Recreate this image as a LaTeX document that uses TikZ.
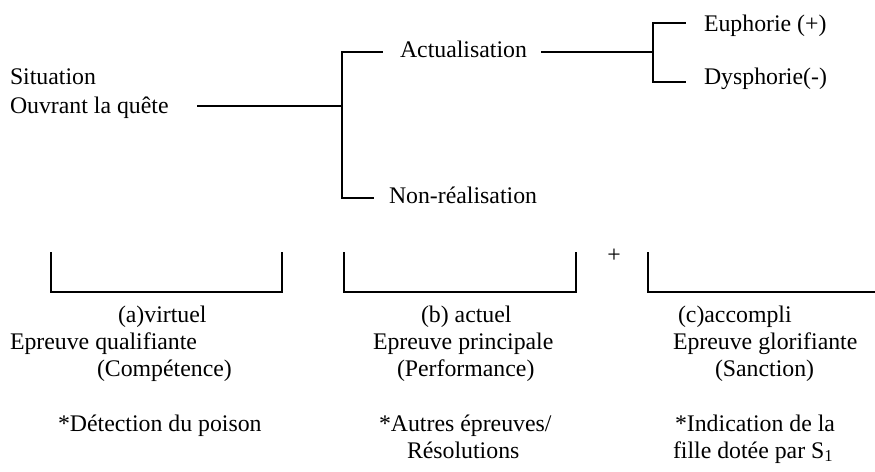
\documentclass[tikz,border=0pt]{standalone}
\usepackage{fontspec}
\setmainfont{Liberation Serif}
\begin{document}
\begin{tikzpicture}[x=1pt,y=-1pt,
  txt/.style={anchor=base west,inner sep=0pt,outer sep=0pt,font=\fontsize{23.8}{27}\selectfont},
  ln/.style={line width=2.2pt,line cap=rect}]
\useasboundingbox (0,0) rectangle (875,471);
% top texts
\node[txt] (sit1) at (10,84) {Situation};
\node[txt] (sit2) at (10,113) {Ouvrant la quête};
\node[txt] (act) at (400,57) {Actualisation};
\node[txt] (non) at (389,203) {Non-réalisation};
\node[txt] (eup) at (704,31) {Euphorie (+)};
\node[txt] (dys) at (704,84) {Dysphorie(-)};
% top tree coordinates
\coordinate (s0) at (198,106);
\coordinate (j1) at (342,106);
\coordinate (j1t) at (342,52);
\coordinate (j1b) at (342,198);
\coordinate (actin) at (382,52);
\coordinate (nonin) at (373,198);
\coordinate (actout) at (542,52);
\coordinate (j2) at (653,52);
\coordinate (j2t) at (653,23);
\coordinate (j2b) at (653,82);
\coordinate (eupin) at (685,23);
\coordinate (dysin) at (685,82);
\draw[ln] (s0) -- (j1);
\draw[ln] (actin) -- (j1t) -- (j1b) -- (nonin);
\draw[ln] (actout) -- (j2);
\draw[ln] (eupin) -- (j2t) -- (j2b) -- (dysin);
% brackets
\coordinate (atl) at (51,253);
\coordinate (abl) at (51,292);
\coordinate (abr) at (282,292);
\coordinate (atr) at (282,253);
\coordinate (btl) at (344,253);
\coordinate (bbl) at (344,292);
\coordinate (bbr) at (576,292);
\coordinate (btr) at (576,253);
\coordinate (ctl) at (648,253);
\coordinate (cbl) at (648,292);
\coordinate (cbr) at (876,292);
\draw[ln] (atl) -- (abl) -- (abr) -- (atr);
\draw[ln] (btl) -- (bbl) -- (bbr) -- (btr);
\draw[ln] (ctl) -- (cbl) -- (cbr);
\node[txt,anchor=base] (plus) at (614,262) {+};
% bottom texts
\node[txt] (a1) at (118,322) {(a)virtuel};
\node[txt] (a2) at (10,349) {Epreuve qualifiante};
\node[txt] (a3) at (97,376) {(Compétence)};
\node[txt] (a4) at (58,431) {*Détection du poison};
\node[txt] (b1) at (421,322) {(b) actuel};
\node[txt] (b2) at (373,349) {Epreuve principale};
\node[txt] (b3) at (397,376) {(Performance)};
\node[txt] (b4) at (379,431) {*Autres épreuves/};
\node[txt] (b5) at (407,458) {Résolutions};
\node[txt] (c1) at (678,322) {(c)accompli};
\node[txt] (c2) at (673,349) {Epreuve glorifiante};
\node[txt] (c3) at (715,376) {(Sanction)};
\node[txt] (c4) at (675,431) {*Indication de la};
\node[txt] (c5) at (673,458) {fille dotée par S\textsubscript{1}};
\end{tikzpicture}
\end{document}
